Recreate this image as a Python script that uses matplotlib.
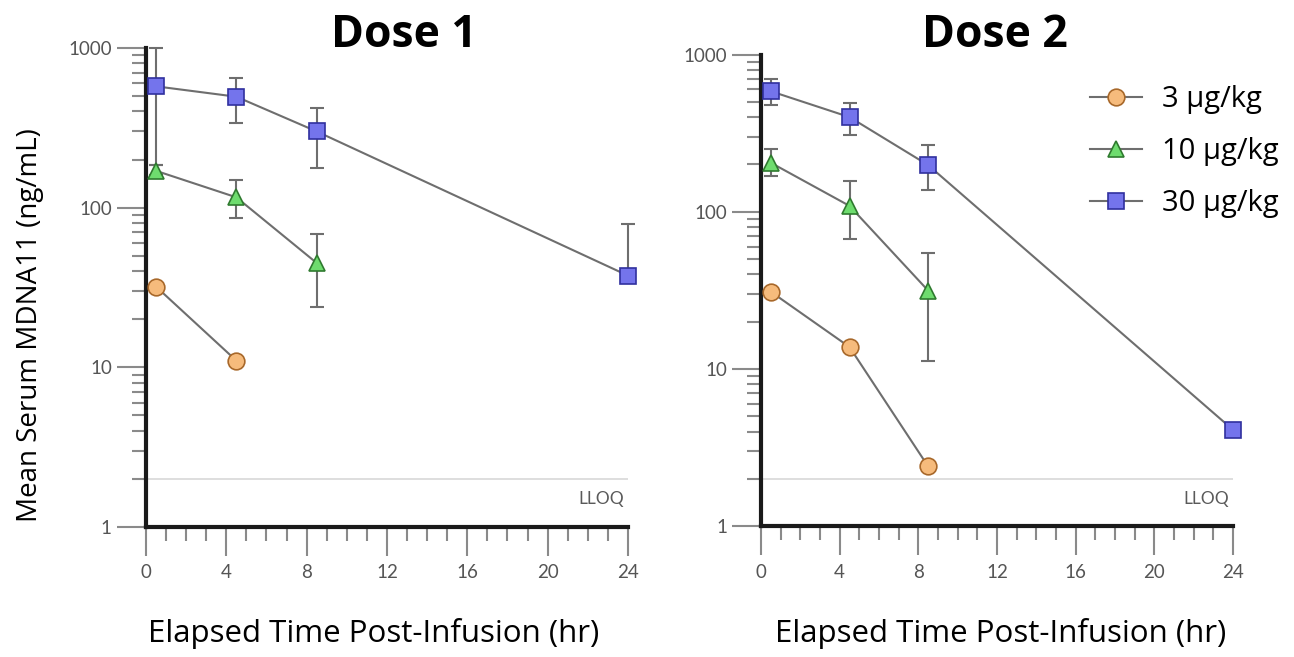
import matplotlib.pyplot as plt
import numpy as np
from matplotlib.ticker import FixedLocator, NullFormatter

# sampling times (hr)
times = [0.5, 4.5, 8.5, 24]
doses = ["3 µg/kg", "10 µg/kg", "30 µg/kg"]
panel_titles = ["Dose 1", "Dose 2"]

# mean concentrations (ng/mL), NaN = not measured / below LLOQ
dose1_mean = {
    "3 µg/kg": [32, 11, np.nan, np.nan],
    "10 µg/kg": [170, 116, 45, np.nan],
    "30 µg/kg": [575, 495, 300, 37.5],
}
dose1_low = {
    "3 µg/kg": [np.nan, np.nan, np.nan, np.nan],
    "10 µg/kg": [160, 86, 24, np.nan],
    "30 µg/kg": [185, 340, 178, 36],
}
dose1_high = {
    "3 µg/kg": [np.nan, np.nan, np.nan, np.nan],
    "10 µg/kg": [185, 148, 68, np.nan],
    "30 µg/kg": [1000, 650, 420, 79],
}

dose2_mean = {
    "3 µg/kg": [31, 13.8, 2.4, np.nan],
    "10 µg/kg": [205, 109, 31.5, np.nan],
    "30 µg/kg": [584, 400, 198, 4.1],
}
dose2_low = {
    "3 µg/kg": [np.nan, np.nan, np.nan, np.nan],
    "10 µg/kg": [169, 67, 11.3, np.nan],
    "30 µg/kg": [479, 310, 137, np.nan],
}
dose2_high = {
    "3 µg/kg": [np.nan, np.nan, np.nan, np.nan],
    "10 µg/kg": [252, 156, 55, np.nan],
    "30 µg/kg": [695, 494, 264, np.nan],
}

LLOQ = 2.0

styles = {
    "3 µg/kg": dict(marker="o", mfc="#F6BB7C", mec="#A8682A"),
    "10 µg/kg": dict(marker="^", mfc="#6EDC6E", mec="#2F7A2F"),
    "30 µg/kg": dict(marker="s", mfc="#7474EC", mec="#30309E"),
}
line_col = "#6E6E6E"
tick_col = "#8A8A8A"

fig = plt.figure(figsize=(12.94, 6.57), dpi=100)
ax1 = fig.add_axes([0.1128, 0.198, 0.3725, 0.729])
ax2 = fig.add_axes([0.5881, 0.199, 0.3648, 0.718])

panels = [
    (ax1, dose1_mean, dose1_low, dose1_high),
    (ax2, dose2_mean, dose2_low, dose2_high),
]
title_x = [0.536, 0.496]
xlabel_shift = [-13.5 / 1294, 4 / 1294]

for i, (ax, mean, low, high) in enumerate(panels):
    ax.set_yscale("log")
    ax.set_xlim(0, 24)
    ax.set_ylim(1, 1000)

    # LLOQ reference line
    ax.axhline(LLOQ, color="#D8D8D8", lw=1.2, zorder=1)
    ax.text(23.8, 1.5, "LLOQ", ha="right", va="center", fontsize=12.5,
            color="#5A5A5A", family="Lato")

    for d in doses:
        y = np.array(mean[d], dtype=float)
        lo = np.array(low[d], dtype=float)
        hi = np.array(high[d], dtype=float)
        t = np.array(times)
        ok = ~np.isnan(y)
        ax.plot(t[ok], y[ok], color=line_col, lw=1.5, zorder=2, clip_on=False)
        has_err = ok & ~np.isnan(hi)
        if has_err.any():
            yerr = np.vstack([y[has_err] - lo[has_err], hi[has_err] - y[has_err]])
            ax.errorbar(t[has_err], y[has_err], yerr=yerr, fmt="none",
                        ecolor="#6E6E6E", elinewidth=1.5, capsize=5,
                        capthick=1.5, zorder=3, clip_on=False)
        ax.plot(t[ok], y[ok], linestyle="none", ms=12, mew=1.2,
                zorder=4, clip_on=False, **styles[d])

    for side in ["top", "right"]:
        ax.spines[side].set_visible(False)
    for side in ["left", "bottom"]:
        ax.spines[side].set_linewidth(3)
        ax.spines[side].set_color("#1A1A1A")

    ax.set_xticks(range(0, 25, 4))
    ax.xaxis.set_minor_locator(FixedLocator(range(0, 25)))
    ax.set_yticks([1, 10, 100, 1000], labels=["1", "10", "100", "1000"])
    minors = [m * 10 ** e for e in range(0, 3) for m in range(2, 10)]
    ax.yaxis.set_minor_locator(FixedLocator(minors))
    ax.yaxis.set_minor_formatter(NullFormatter())
    ax.tick_params(axis="both", which="major", length=21, width=1.5,
                   color=tick_col, labelcolor="#555555", labelsize=13.5)
    ax.tick_params(axis="both", which="minor", length=10, width=1.5,
                   color=tick_col)
    ax.tick_params(axis="x", which="major", pad=6)
    for lab in ax.get_xticklabels() + ax.get_yticklabels():
        lab.set_family("Lato")

    # panel title and x label, placed in figure pixels
    pos = ax.get_position()
    fig.text(pos.x0 + title_x[i] * pos.width, 1 - 47 / 657, panel_titles[i],
             fontsize=32, fontweight="bold", family="Open Sans", ha="center",
             va="baseline")
    fig.text(pos.x0 + 0.5 * pos.width + xlabel_shift[i], 1 - 642 / 657,
             "Elapsed Time Post-Infusion (hr)", fontsize=22.5,
             family="Open Sans", ha="center", va="baseline")

fig.text(30 / 1294, 1 - 325 / 657, "Mean Serum MDNA11 (ng/mL)", fontsize=20,
         family="Open Sans", rotation=90, ha="center", va="center")

handles = [
    plt.Line2D([], [], color=line_col, lw=1.5, ms=12, mew=1.2, **styles[d])
    for d in doses
]
fig.legend(handles, doses, loc="upper left", bbox_to_anchor=(0.842, 0.871),
           frameon=False, prop={"family": "Open Sans", "size": 21},
           handlelength=1.8, handletextpad=0.7, labelspacing=0.8,
           borderaxespad=0, borderpad=0)

fig.savefig("out.png", dpi=100)
